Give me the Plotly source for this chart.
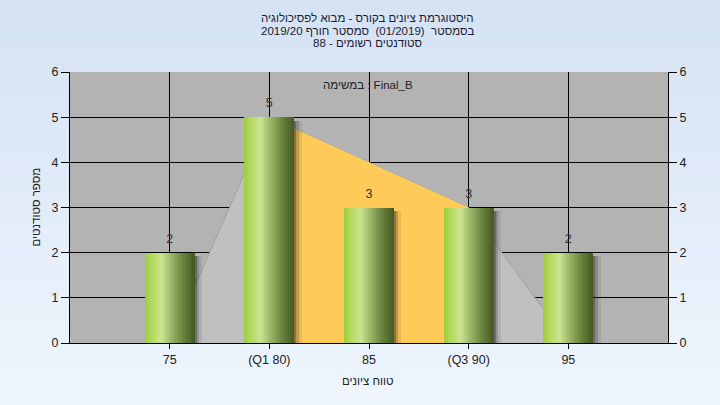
import plotly.graph_objects as go

# ---- data ----
categories = ["75", "(Q1 80)", "85", "(Q3 90)", "95"]
counts = [2, 5, 3, 3, 2]
curve_values = [0, 5, 4, 3, 0]          # grey background curve
quartile_categories = ["(Q1 80)", "85", "(Q3 90)"]
quartile_values = [5, 4, 3]             # orange Q1..Q3 band
y_ticks = [0, 1, 2, 3, 4, 5, 6]

title_lines = [
    "היסטוגרמת ציונים בקורס - מבוא לפסיכולוגיה",
    "בסמסטר  (01/2019)  סמסטר חורף 2019/20",
    "סטודנטים רשומים - 88",
]
legend_text = "במשימה : Final_B"
x_title = "טווח ציונים"
y_title = "מספר סטודנטים"

FONT = "Liberation Sans, DejaVu Sans, Arial, sans-serif"

fig = go.Figure()

# grey curve area (base subplot, under the bars)
fig.add_trace(go.Scatter(
    x=categories, y=curve_values, mode="lines", fill="tozeroy",
    fillcolor="#c0c0c0", line=dict(color="#9a9a9a", width=0.8),
    hoverinfo="skip", showlegend=False))
# orange quartile area
fig.add_trace(go.Scatter(
    x=quartile_categories, y=quartile_values, mode="lines", fill="tozeroy",
    fillcolor="#fecb59", line=dict(color="#fecb59", width=0),
    hoverinfo="skip", showlegend=False))

# bar shadows (overlay subplot, above the areas)
shadow_layers = [(0.25, 0.02, "rgba(25,25,25,0.5)"),
                 (0.27, 0.025, "rgba(40,40,40,0.3)"),
                 (0.295, 0.03, "rgba(60,60,60,0.12)")]
for off, w, col in shadow_layers:
    fig.add_trace(go.Bar(
        x=categories, y=[v - 0.08 for v in counts], offset=off, width=w,
        yaxis="y2",
        marker=dict(color=col, line=dict(width=0)),
        hoverinfo="skip", showlegend=False))

# gradient bars (cylinder look) drawn as thin vertical slices
stops = [(0.0, (158, 204, 58)), (0.12, (176, 216, 88)), (0.33, (203, 229, 146)),
         (0.55, (150, 176, 100)), (0.8, (98, 124, 54)), (1.0, (68, 90, 33))]


def grad(t):
    for (t0, c0), (t1, c1) in zip(stops[:-1], stops[1:]):
        if t0 <= t <= t1:
            f = (t - t0) / (t1 - t0)
            return "rgb(%d,%d,%d)" % tuple(round(a + (b - a) * f) for a, b in zip(c0, c1))
    return "rgb(%d,%d,%d)" % stops[-1][1]


N = 25
bar_w = 0.5
sw = bar_w / N
for i in range(N):
    t = (i + 0.5) / N
    wid = sw * 1.4 if i < N - 1 else sw
    fig.add_trace(go.Bar(
        x=categories, y=counts, offset=-bar_w / 2 + i * sw, width=wid,
        yaxis="y2",
        marker=dict(color=grad(t), line=dict(width=0)),
        hoverinfo="skip", showlegend=False))

# value labels
fig.add_trace(go.Scatter(
    x=categories, y=counts, mode="markers+text", text=[str(v) for v in counts],
    textposition="top center", yaxis="y2",
    marker=dict(size=9, opacity=0),
    textfont=dict(family=FONT, size=12.5, color="#333333"),
    hoverinfo="skip", showlegend=False, cliponaxis=False))

# background gradient bands
shapes = []
top_c = (213, 226, 243)
bot_c = (239, 246, 254)
B = 40
for i in range(B):
    f = i / (B - 1)
    c = tuple(round(a + (b - a) * f) for a, b in zip(top_c, bot_c))
    shapes.append(dict(type="rect", xref="paper", yref="paper",
                       x0=-0.2, x1=1.2, y0=1.27 - (i + 1) * 1.53 / B - 0.002,
                       y1=1.27 - i * 1.53 / B,
                       fillcolor="rgb(%d,%d,%d)" % c, line=dict(width=0), layer="below"))
shapes.append(dict(type="rect", xref="paper", yref="paper", x0=0, x1=1, y0=0, y1=1,
                   fillcolor="#b3b3b3", line=dict(width=0), layer="below"))

annotations = []
for txt, yp in zip(title_lines, [18, 31, 43]):
    annotations.append(dict(text=txt, xref="paper", yref="paper", x=0.4983,
                            y=(343 - yp) / 271, showarrow=False, xanchor="center",
                            yanchor="middle",
                            font=dict(family=FONT, size=11.5, color="#1a1a33")))
annotations.append(dict(text=legend_text, xref="paper", yref="paper", x=0.4983,
                        y=(343 - 85) / 271, showarrow=False, xanchor="center",
                        yanchor="middle", font=dict(family=FONT, size=11.5, color="#222222")))
annotations.append(dict(text=x_title, xref="paper", yref="paper", x=0.4983,
                        y=(343 - 381) / 271, showarrow=False, xanchor="center",
                        yanchor="middle", font=dict(family=FONT, size=11.5, color="#222222")))
annotations.append(dict(text=y_title, xref="paper", yref="paper", x=(35 - 70) / 598,
                        y=0.5, showarrow=False, xanchor="center", yanchor="middle",
                        textangle=-90, font=dict(family=FONT, size=11.5, color="#222222")))

fig.update_layout(
    width=720, height=405,
    margin=dict(l=70, r=52, t=72, b=62, pad=0),
    paper_bgcolor="#e3ecf8",
    plot_bgcolor="#b3b3b3",
    barmode="overlay",
    bargap=0,
    showlegend=False,
    hovermode=False,
    shapes=shapes,
    annotations=annotations,
    font=dict(family=FONT, size=12.5, color="#222222"),
    xaxis=dict(type="category", categoryorder="array", categoryarray=categories,
               range=[-1, 5], showgrid=True, gridcolor="black", gridwidth=1,
               showline=True, linecolor="black", linewidth=1,
               ticks="outside", ticklen=5, tickcolor="black",
               tickfont=dict(family=FONT, size=12.5, color="#222222"),
               zeroline=False, fixedrange=True),
    yaxis=dict(range=[0, 6], tickvals=y_ticks, showgrid=True, gridcolor="black",
               gridwidth=1, showline=True, linecolor="black", linewidth=1,
               ticks="outside", ticklen=8, tickcolor="black", zeroline=False,
               tickfont=dict(family=FONT, size=12.5, color="#222222")),
    yaxis2=dict(range=[0, 6], tickvals=y_ticks, overlaying="y", side="right",
                showgrid=False, showline=True, linecolor="black", linewidth=1,
                ticks="outside", ticklen=8, tickcolor="black", zeroline=False,
                tickfont=dict(family=FONT, size=12.5, color="#222222")),
)

fig.write_html("out.html", config={"displayModeBar": False},
               post_script="document.body.style.margin='0';document.body.style.overflow='hidden';")
